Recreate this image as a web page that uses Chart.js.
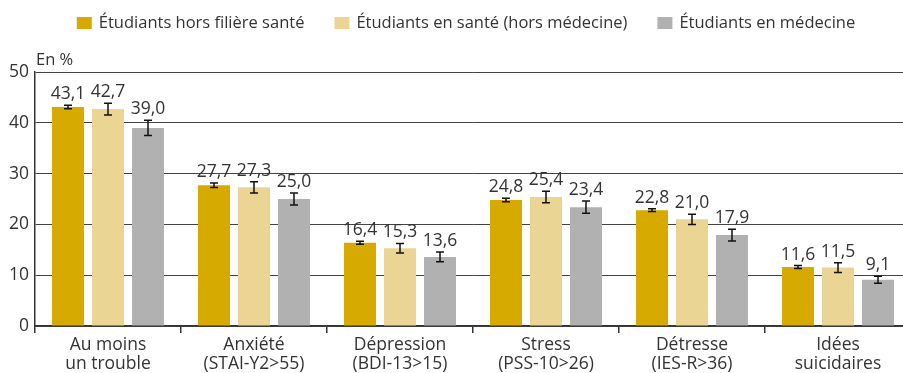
<!DOCTYPE html>
<html lang="fr">
<head>
<meta charset="utf-8">
<script src="https://cdn.jsdelivr.net/npm/chart.js@4/dist/chart.umd.min.js"></script>
<style>
	html, body { margin: 0; padding: 0; background: #fff; overflow: hidden; }
	#sante__wrap { width: 912px; height: 373px; position: relative; }
</style>
</head>
<body>
<div id="sante__wrap"><canvas id="sante__canvas-chart" width="912" height="373"></canvas></div>
<script>
// santé mentale des étudiants : prévalences et intervalles
let categories = [
	['Au moins', 'un trouble'],
	['Anxiété', '(STAI-Y2>55)'],
	['Dépression', '(BDI-13>15)'],
	['Stress', '(PSS-10>26)'],
	['Détresse', '(IES-R>36)'],
	['Idées', 'suicidaires']
];
let seriesNames = ['Étudiants hors filière santé', 'Étudiants en santé (hors médecine)', 'Étudiants en médecine'];

let horsSante = [43.1, 27.7, 16.4, 24.8, 22.8, 11.6];
let santeHorsMed = [42.7, 27.3, 15.3, 25.4, 21.0, 11.5];
let medecine = [39.0, 25.0, 13.6, 23.4, 17.9, 9.1];

// demi-largeur des barres d'erreur
let errHorsSante = [0.35, 0.45, 0.3, 0.35, 0.27, 0.3];
let errSanteHorsMed = [1.15, 1.1, 0.95, 1.15, 1.0, 0.95];
let errMedecine = [1.5, 1.2, 0.95, 1.2, 1.15, 0.7];

let yTicks = [0, 10, 20, 30, 40, 50];

let colors = ['#D6AA00', '#EBD595', '#B1B1B1'];
let fontName = "'Open Sans', 'Noto Sans', sans-serif";

let chartDiv = document.getElementById('sante__canvas-chart');
let ctx = chartDiv.getContext('2d');

const errPlugin = {
	id: 'errBars',
	afterDatasetsDraw(chart) {
		const c = chart.ctx, y = chart.scales.y;
		chart.data.datasets.forEach((ds, i) => {
			const meta = chart.getDatasetMeta(i);
			meta.data.forEach((bar, j) => {
				const v = ds.data[j], e = ds.err[j];
				const top = y.getPixelForValue(v + e), bot = y.getPixelForValue(v - e);
				c.save();
				c.strokeStyle = '#111';
				c.lineWidth = 1.5;
				c.beginPath();
				c.moveTo(bar.x, top); c.lineTo(bar.x, bot);
				c.moveTo(bar.x - 4, top); c.lineTo(bar.x + 4, top);
				c.moveTo(bar.x - 4, bot); c.lineTo(bar.x + 4, bot);
				c.stroke();
				// valeur au-dessus de la barre
				c.fillStyle = '#333';
				c.font = '17.5px ' + fontName;
				c.textAlign = 'center';
				c.textBaseline = 'alphabetic';
				c.fillText(v.toFixed(1).replace('.', ','), bar.x, top - 6);
				c.restore();
			});
		});
	}
};

const legendPlugin = {
	id: 'topLegend',
	afterDraw(chart) {
		const c = chart.ctx;
		c.save();
		c.font = '16.5px ' + fontName;
		c.textBaseline = 'middle';
		c.textAlign = 'left';
		const box = 15, gapText = 7, gapItem = 30;
		let widths = chart.data.datasets.map(ds => box + gapText + c.measureText(ds.label).width);
		let total = widths.reduce((a, b) => a + b, 0) + gapItem * (widths.length - 1);
		let x = 466 - total / 2;
		chart.data.datasets.forEach((ds, i) => {
			c.fillStyle = ds.backgroundColor;
			c.fillRect(x, 17, box, 12);
			c.fillStyle = '#333';
			c.fillText(ds.label, x + box + gapText, 23);
			x += widths[i] + gapItem;
		});
		// unité
		c.font = '16.5px ' + fontName;
		c.textBaseline = 'alphabetic';
		c.fillText('En %', chart.chartArea.left + 1, 65);
		c.restore();
	}
};

let chart = new Chart(ctx, {
	type: 'bar',
	data: {
		labels: categories,
		datasets: [
			{ label: seriesNames[0], data: horsSante, err: errHorsSante, backgroundColor: colors[0] },
			{ label: seriesNames[1], data: santeHorsMed, err: errSanteHorsMed, backgroundColor: colors[1] },
			{ label: seriesNames[2], data: medecine, err: errMedecine, backgroundColor: colors[2] }
		]
	},
	options: {
		responsive: false,
		animation: false,
		devicePixelRatio: 1,
		layout: { padding: { top: 72, right: 1, left: 0, bottom: 0 } },
		datasets: { bar: { categoryPercentage: 0.822, barPercentage: 0.8 } },
		plugins: { legend: { display: false }, tooltip: { enabled: false } },
		scales: {
			x: {
				afterFit: s => { s.height = 47; },
				border: { color: '#333', width: 1.5 },
				grid: { offset: true, drawOnChartArea: false, drawTicks: true, tickLength: 7, color: '#333', lineWidth: 1.5 },
				ticks: { color: '#333', padding: 3, font: { family: fontName, size: 17.5, lineHeight: 1.08 }, maxRotation: 0 }
			},
			y: {
				min: 0, max: 50,
				afterFit: s => { s.width = 35; },
				afterBuildTicks: s => { s.ticks = yTicks.map(v => ({ value: v })); },
				border: { color: '#333', width: 1.5 },
				grid: { color: '#444', lineWidth: 1, drawTicks: false },
				ticks: { color: '#333', padding: 6, font: { family: fontName, size: 17.5 } }
			}
		}
	},
	plugins: [errPlugin, legendPlugin]
});
</script>
</body>
</html>
